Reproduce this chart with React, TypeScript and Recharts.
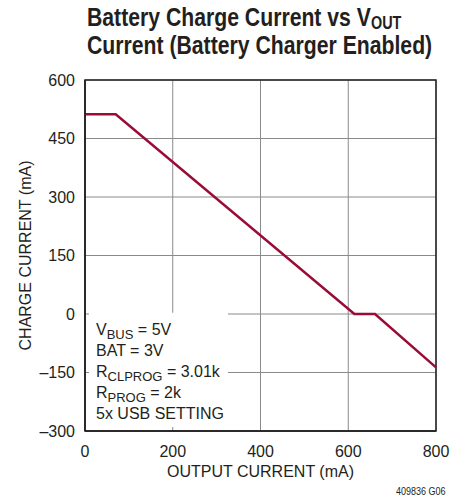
import React from "react";
import {
  LineChart,
  Line,
  XAxis,
  YAxis,
  CartesianGrid,
  ReferenceArea,
  Label,
} from "recharts";

const outputCurrent = [0, 70, 614, 661, 800];
const chargeCurrent = [512, 512, 0, 0, -137];
const xTicks = [0, 200, 400, 600, 800];
const yTicks = [-300, -150, 0, 150, 300, 450, 600];

const data = outputCurrent.map((x, i) => ({ x, y: chargeCurrent[i] }));

const FONT = "'Liberation Sans', Arial, Helvetica, sans-serif";

const fmtY = (v: number) => (v < 0 ? `\u2013${Math.abs(v)}` : `${v}`);

const Sub = ({
  children,
  size = 13,
  drop = 4,
}: {
  children: React.ReactNode;
  size?: number;
  drop?: number;
}) => (
  <span
    style={{
      display: "inline-block",
      fontSize: size,
      lineHeight: `${Math.round(size * 0.7)}px`,
      height: Math.round(size * 0.7),
      verticalAlign: -drop,
    }}
  >
    {children}
  </span>
);

const App = () => {
  return (
    <div
      style={{
        position: "absolute",
        left: 0,
        top: 0,
        width: 471,
        height: 500,
        background: "#fff",
        fontFamily: FONT,
      }}
    >
      <div
        style={{
          position: "absolute",
          left: 87,
          top: 3,
          fontFamily: FONT,
          fontWeight: "bold",
          fontSize: 26.5,
          lineHeight: "28px",
          color: "#231f20",
          whiteSpace: "nowrap",
          transform: "scaleX(0.8)",
          transformOrigin: "0 0",
        }}
      >
        <div style={{ height: 28 }}>
          Battery Charge Current vs V<Sub size={18} drop={3}>OUT</Sub>
        </div>
        <div style={{ height: 28 }}>Current (Battery Charger Enabled)</div>
      </div>

      <LineChart
        width={471}
        height={500}
        data={data}
        margin={{ top: 80, right: 35, bottom: 39, left: 25 }}
      >
        <CartesianGrid stroke="#8a8a8a" strokeWidth={1} horizontal vertical />
        <XAxis
          dataKey="x"
          type="number"
          domain={[0, 800]}
          ticks={xTicks}
          height={30}
          tickSize={0}
          tickMargin={15}
          axisLine={{ stroke: "#231f20", strokeWidth: 1.5 }}
          tick={{ fill: "#231f20", fontSize: 16, fontFamily: FONT }}
        >
          <Label
            value="OUTPUT CURRENT (mA)"
            position="bottom"
            offset={5}
            style={{ fill: "#231f20", fontSize: 16, fontFamily: FONT }}
          />
        </XAxis>
        <YAxis
          type="number"
          domain={[-300, 600]}
          ticks={yTicks}
          width={60}
          tickSize={0}
          tickMargin={10}
          tickFormatter={fmtY}
          axisLine={{ stroke: "#231f20", strokeWidth: 1.5 }}
          tick={{ fill: "#231f20", fontSize: 16, fontFamily: FONT }}
        >
          <Label
            value="CHARGE CURRENT (mA)"
            angle={-90}
            position="insideLeft"
            offset={0}
            style={{ fill: "#231f20", fontSize: 16, fontFamily: FONT, textAnchor: "middle" }}
          />
        </YAxis>
        <ReferenceArea
          x1={9}
          x2={326}
          y1={-290}
          y2={3}
          fill="#fff"
          fillOpacity={1}
          stroke="none"
          ifOverflow="hidden"
        />
        <ReferenceArea
          x1={0}
          x2={800}
          y1={-300}
          y2={600}
          fill="none"
          stroke="#231f20"
          strokeWidth={1.5}
        />
        <Line
          dataKey="y"
          stroke="#9a0b36"
          strokeWidth={2.5}
          dot={false}
          isAnimationActive={false}
          strokeLinejoin="miter"
        />
      </LineChart>

      <div
        style={{
          position: "absolute",
          left: 96,
          top: 319,
          fontSize: 16,
          lineHeight: "21px",
          color: "#231f20",
          whiteSpace: "nowrap",
        }}
      >
        <div style={{ height: 21 }}>
          V<Sub>BUS</Sub> = 5V
        </div>
        <div style={{ height: 21 }}>BAT = 3V</div>
        <div style={{ height: 21 }}>
          R<Sub>CLPROG</Sub> = 3.01k
        </div>
        <div style={{ height: 21 }}>
          R<Sub>PROG</Sub> = 2k
        </div>
        <div style={{ height: 21 }}>5x USB SETTING</div>
      </div>

      <div
        style={{
          position: "absolute",
          left: 396,
          top: 486,
          fontSize: 10,
          fontFamily: FONT,
          color: "#231f20",
          transform: "scaleX(0.9)",
          transformOrigin: "0 0",
        }}
      >
        409836 G06
      </div>
    </div>
  );
};

export default App;
